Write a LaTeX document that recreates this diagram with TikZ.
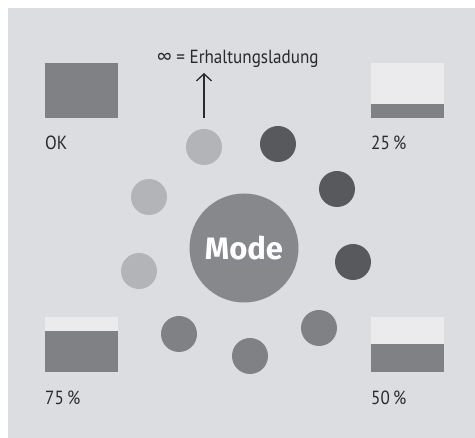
\documentclass[tikz,border=0pt]{standalone}
\usepackage{fontspec}
\setmainfont[FakeStretch=0.9]{PT Sans}
\newfontfamily\modefont{Fira Sans}
\usetikzlibrary{arrows.meta}
\definecolor{bg}{HTML}{DCDDE0}
\definecolor{barlight}{HTML}{EBEBED}
\definecolor{bardark}{HTML}{808185}
\definecolor{dotlight}{HTML}{B3B4B7}
\definecolor{dotdark}{HTML}{58595C}
\definecolor{dotmid}{HTML}{808185}
\definecolor{modegray}{HTML}{87888C}
\definecolor{txt}{HTML}{2A2A2C}
\tikzset{
  barbox/.style={minimum width=73pt, minimum height=55pt, inner sep=0pt, fill=barlight},
  lbl/.style={anchor=base west, inner sep=0pt, text=txt, font=\fontsize{19}{21}\selectfont},
  dot/.style={circle, minimum size=36pt, inner sep=0pt},
}
\begin{document}
\begin{tikzpicture}[x=1pt,y=-1pt]
\useasboundingbox (0,0) rectangle (475,438);
\fill[bg] (8,8) rectangle (475,438);
% bars
\node[barbox, fill=bardark, anchor=north west] (ok) at (45,63) {};
\node[barbox, anchor=north west] (b25) at (371,63) {};
\fill[bardark] (b25.south west) rectangle ([yshift=14pt]b25.south east);
\node[barbox, anchor=north west] (b75) at (45,317) {};
\fill[bardark] (b75.south west) rectangle ([yshift=41pt]b75.south east);
\node[barbox, anchor=north west] (b50) at (371,317) {};
\fill[bardark] (b50.south west) rectangle ([yshift=28pt]b50.south east);
% labels
\node[lbl] (lok) at (45,150) {OK};
\node[lbl] (l25) at (371,150) {25\,\%};
\node[lbl] (l75) at (45,405) {75\,\%};
\node[lbl] (l50) at (371,405) {50\,\%};
\node[lbl] (linf) at (157,64) {∞ = Erhaltungsladung};
% mode
\node[circle, fill=modegray, minimum size=109pt, inner sep=0pt, text=white,
      font=\modefont\bfseries\fontsize{31}{32}\selectfont] (mode) at (244,248) {Mode};
% dots
\node[dot, fill=dotlight] (c1) at (204,147) {};
\node[dot, fill=dotdark] (c2) at (278,144) {};
\node[dot, fill=dotdark] (c3) at (337,189) {};
\node[dot, fill=dotdark] (c4) at (353,262) {};
\node[dot, fill=dotmid] (c5) at (319,328) {};
\node[dot, fill=dotmid] (c6) at (250,356) {};
\node[dot, fill=dotmid] (c7) at (179,334) {};
\node[dot, fill=dotlight] (c8) at (139,271) {};
\node[dot, fill=dotlight] (c9) at (149,197) {};
% arrow
\coordinate (astart) at (204,118);
\coordinate (aend) at (204,73);
\draw[line width=1.3pt, txt, -{Straight Barb[length=7pt,width=15pt,line width=1.3pt]}] (astart) -- (aend);
\end{tikzpicture}
\end{document}
